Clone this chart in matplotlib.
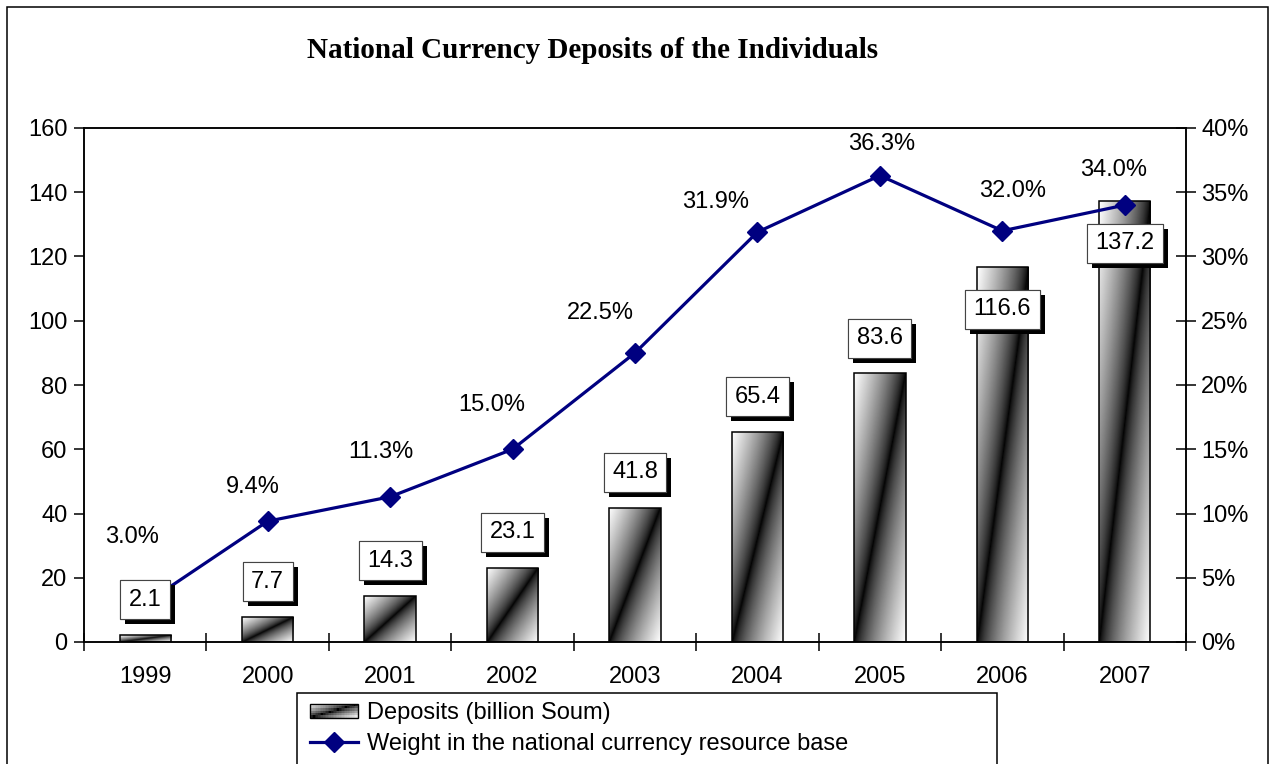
import numpy as np
import matplotlib.pyplot as plt
import matplotlib.patheffects as pe
from matplotlib.patches import Rectangle
from matplotlib.legend_handler import HandlerBase
from matplotlib.lines import Line2D

plt.rcParams['font.family'] = ['Liberation Sans', 'DejaVu Sans']

years = ['1999', '2000', '2001', '2002', '2003', '2004', '2005', '2006', '2007']
deposits = [2.1, 7.7, 14.3, 23.1, 41.8, 65.4, 83.6, 116.6, 137.2]  # billion Soum
weight = [3.0, 9.4, 11.3, 15.0, 22.5, 31.9, 36.3, 32.0, 34.0]  # %

# where the % labels sit relative to their point, px (dx, dy up)
pct_dx = [-13, -15, -9, -21, -35, -42, 2, 10, -11]
pct_dy = [66, 34, 45, 44, 40, 30, 32, 40, 35]

title = 'National Currency Deposits of the Individuals'
bar_name = 'Deposits (billion Soum)'
line_name = 'Weight in the national currency resource base'

W, H = 1274, 764
FS = 17
fig = plt.figure(figsize=(W / 100, H / 100), dpi=100)
fig.patch.set_facecolor('white')

# outer frame (bottom edge is cut off in the reference)
fig.patches.append(Rectangle((7 / W, -0.02), (1268 - 7) / W, 1 - 7 / H + 0.02,
                             transform=fig.transFigure, fill=False,
                             edgecolor='black', lw=1.1))

ax = fig.add_axes([84 / W, 1 - 642 / H, (1186 - 84) / W, (642 - 128) / H])
ax2 = ax.twinx()

x = np.arange(len(years))
bw = 0.42
bars = ax.bar(x, deposits, bw, facecolor='none', edgecolor='black', lw=1.1, zorder=3)

# diagonal white-black-white gradient inside each bar
uu, vv = np.meshgrid(np.linspace(0, 1, 60), np.linspace(0, 1, 300))
grad = np.abs(uu - vv) ** 0.7
for b in bars:
    bx, by, bwid, bh = b.get_x(), b.get_y(), b.get_width(), b.get_height()
    im = ax.imshow(grad, cmap='gray', vmin=0, vmax=1, origin='lower',
                   extent=[bx, bx + bwid, by, by + bh], aspect='auto',
                   interpolation='bilinear', zorder=2)
    im.set_clip_path(b)

ax.set_xlim(-0.5, len(years) - 0.5)
ax.set_ylim(0, 160)
ax.set_yticks(np.arange(0, 161, 20))
ax.set_xticks(np.arange(-0.5, len(years), 1))
ax.set_xticklabels([])
ax.set_xticks(x, minor=True)
ax.set_xticklabels(years, minor=True)
ax.tick_params(axis='x', which='major', direction='inout', length=13, width=1.1)
ax.tick_params(axis='x', which='minor', length=0, pad=17, labelsize=FS)
ax.tick_params(axis='y', direction='out', length=7, width=1.1, labelsize=FS, pad=5)

ax2.set_ylim(0, 40)
ax2.set_yticks(np.arange(0, 41, 5))
ax2.set_yticklabels([f'{v}%' for v in range(0, 41, 5)])
ax2.tick_params(axis='y', direction='inout', length=14, width=1.1, labelsize=FS, pad=4)
for a in (ax, ax2):
    for s in a.spines.values():
        s.set_linewidth(1.1)

ax2.plot(x, weight, color='#000080', lw=2.3, marker='D', ms=10.5, zorder=3)

# percent labels above the points
for xi, w, dx, dy in zip(x, weight, pct_dx, pct_dy):
    ax2.annotate(f'{w:.1f}%', (xi, w), xytext=(dx * 0.72, dy * 0.72), textcoords='offset points',
                 ha='center', va='center', fontsize=FS, zorder=6,
                 bbox=dict(boxstyle='square,pad=0.1', fc='white', ec='none'))

# value labels on bars, boxed with a shadow
for xi, d in zip(x, deposits):
    ypos = d + 11 if d < 100 else d - 13
    t = ax2.text(xi, ypos, f'{d:.1f}', transform=ax.transData, ha='center', va='center',
                 fontsize=FS, zorder=7,
                 bbox=dict(boxstyle='square,pad=0.36', fc='white', ec='#444444', lw=0.8))
    t.get_bbox_patch().set_path_effects(
        [pe.withSimplePatchShadow(offset=(3.6, -3.6), shadow_rgbFace='black', alpha=1), pe.Normal()])


class GradHandler(HandlerBase):
    def create_artists(self, legend, orig_handle, xdescent, ydescent, width, height,
                       fontsize, trans):
        arts = []
        nx, ny = 30, 6
        for i in range(nx):
            for j in range(ny):
                g = abs((i + 0.5) / nx - (j + 0.5) / ny) ** 0.7
                r = Rectangle((-xdescent + width * i / nx, -ydescent + height * j / ny),
                              width / nx, height / ny, fc=str(g), ec='none', transform=trans)
                arts.append(r)
        arts.append(Rectangle((-xdescent, -ydescent), width, height, fill=False,
                              ec='black', lw=1.0, transform=trans))
        return arts


bar_handle = Rectangle((0, 0), 1, 1)
line_handle = Line2D([], [], color='#000080', lw=2.3, marker='D', ms=10.5)
fig.legend([bar_handle, line_handle], [bar_name, line_name],
           handler_map={Rectangle: GradHandler()},
           loc='upper left', bbox_to_anchor=(310 / W, 1 - 702 / H), borderaxespad=0,
           frameon=False, fontsize=FS, handlelength=2.05, handleheight=0.55,
           handletextpad=0.36, labelspacing=0.38, borderpad=0)
fig.patches.append(Rectangle((297 / W, -0.02), (997 - 297) / W, (764 - 693) / H + 0.02,
                             transform=fig.transFigure, fill=False,
                             edgecolor='black', lw=1.1))

fig.text(593 / W, 1 - 50 / H, title, ha='center', va='center', fontsize=21,
         fontweight='bold', family=['Liberation Serif', 'DejaVu Serif'])

fig.savefig('out.png', dpi=100)
